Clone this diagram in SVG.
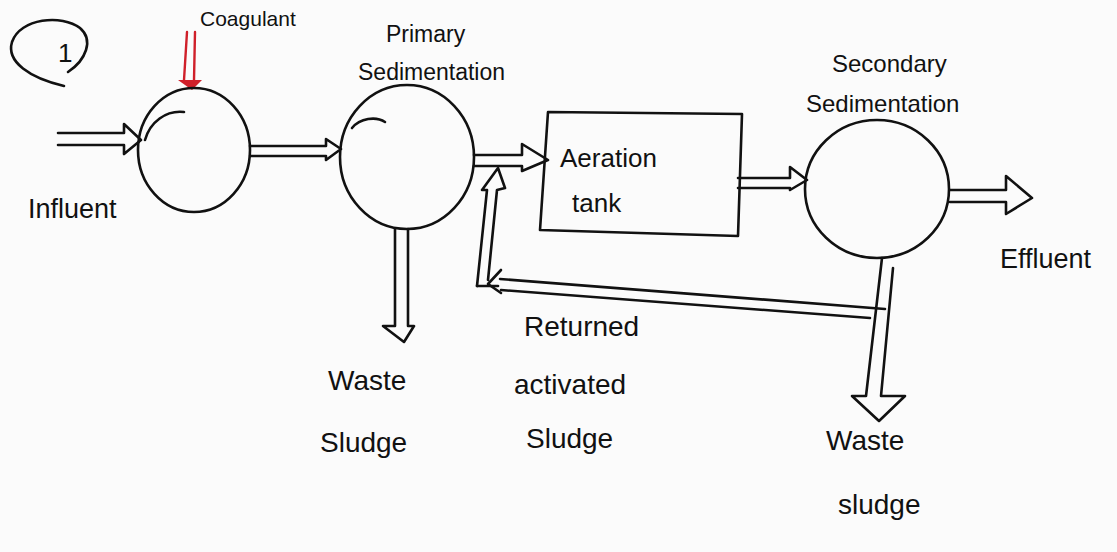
<svg xmlns="http://www.w3.org/2000/svg" width="1117" height="552" viewBox="0 0 1117 552">
  <style>
    .ink { fill: none; stroke: #111; stroke-width: 2.6; stroke-linecap: round; stroke-linejoin: round; }
    .red { fill: none; stroke: #d0202a; stroke-width: 2.4; stroke-linecap: round; stroke-linejoin: round; }
    .lbl { font-family: "Liberation Sans", "DejaVu Sans", sans-serif; font-size: 22px; fill: #111; }
    .big { font-size: 26px; }
    .sm { font-size: 22px; }
  </style>
  <rect width="1117" height="552" fill="#fbfbfb"/>

  <!-- item number -->
  <g id="number">
    <path class="ink" d="M64,86 C30,78 6,62 12,42 C20,18 62,14 80,28 C94,40 86,60 68,72"/>
    <text class="lbl big" x="58" y="62">1</text>
  </g>

  <!-- coagulant dosing -->
  <g id="coagulant">
    <text class="lbl" x="200" y="26" style="font-size:21px">Coagulant</text>
    <path class="red" d="M187,32 L184,80 M195,32 L194,80"/>
    <path d="M178,80 L202,80 L192,90 Z" fill="#d0202a"/>
  </g>

  <!-- coagulation tank -->
  <g id="coagulation-tank">
    <ellipse class="ink" cx="194" cy="150" rx="56" ry="62"/>
    <path class="ink" d="M145,140 C150,122 166,110 184,112"/>
  </g>

  <!-- primary sedimentation -->
  <g id="primary-sedimentation">
    <ellipse class="ink" cx="407" cy="157" rx="67" ry="72"/>
    <path class="ink" d="M352,128 C360,118 376,116 385,122"/>
    <text class="lbl" x="386" y="42" style="font-size:23px">Primary</text>
    <text class="lbl" x="358" y="80" style="font-size:23px">Sedimentation</text>
  </g>

  <!-- aeration tank -->
  <g id="aeration-tank">
    <path class="ink" d="M548,112 L742,114 L738,236 L540,230 Z"/>
    <text class="lbl big" x="560" y="167">Aeration</text>
    <text class="lbl big" x="572" y="212">tank</text>
  </g>

  <!-- secondary sedimentation -->
  <g id="secondary-sedimentation">
    <ellipse class="ink" cx="877" cy="189" rx="72" ry="69"/>
    <text class="lbl" x="832" y="72" style="font-size:24px">Secondary</text>
    <text class="lbl" x="806" y="112" style="font-size:24px">Sedimentation</text>
  </g>

  <!-- flows -->
  <g id="connectors">
    <!-- influent -->
    <path class="ink" d="M58,133 H124 V124 L141,140 L124,154 V145 H58"/>
    <!-- coagulation to primary -->
    <path class="ink" d="M250,146 H326 V139 L341,149 L326,160 V156 H250"/>
    <!-- primary to aeration -->
    <path class="ink" d="M474,155 H522 V144 L548,160 L522,171 V166 H474"/>
    <!-- aeration to secondary -->
    <path class="ink" d="M738,178 H790 V167 L807,180 L790,190 V188 H738"/>
    <!-- effluent -->
    <path class="ink" d="M950,190 H1006 V176 L1032,198 L1006,214 V202 H950"/>
    <!-- primary waste sludge -->
    <path class="ink" d="M395,229 V326 H383 L404,342 L414,326 H408 V229"/>
    <!-- secondary waste sludge -->
    <path class="ink" d="M882,258 L866,396 H852 L879,421 L905,396 H881 L893,268"/>
    <!-- returned activated sludge -->
    <path class="ink" d="M885,309 L500,279 M870,318 L501,290"/>
    <path class="ink" d="M501,270 L488,284 L501,293"/>
    <path class="ink" d="M477,286 L487,190 H482 L498,168 L505,188 L497,190 L488,280"/>
    <path class="ink" d="M477,286 L498,286"/>
  </g>

  <!-- stream labels -->
  <g id="labels">
    <text class="lbl" x="28" y="218" style="font-size:27px">Influent</text>
    <text class="lbl" x="1000" y="268" style="font-size:27px">Effluent</text>
    <text class="lbl" x="328" y="390" style="font-size:28px">Waste</text>
    <text class="lbl" x="320" y="452" style="font-size:28px">Sludge</text>
    <text class="lbl" x="524" y="336" style="font-size:28px">Returned</text>
    <text class="lbl" x="514" y="394" style="font-size:28px">activated</text>
    <text class="lbl" x="526" y="448" style="font-size:28px">Sludge</text>
    <text class="lbl" x="826" y="450" style="font-size:28px">Waste</text>
    <text class="lbl" x="838" y="514" style="font-size:28px">sludge</text>
  </g>
</svg>
